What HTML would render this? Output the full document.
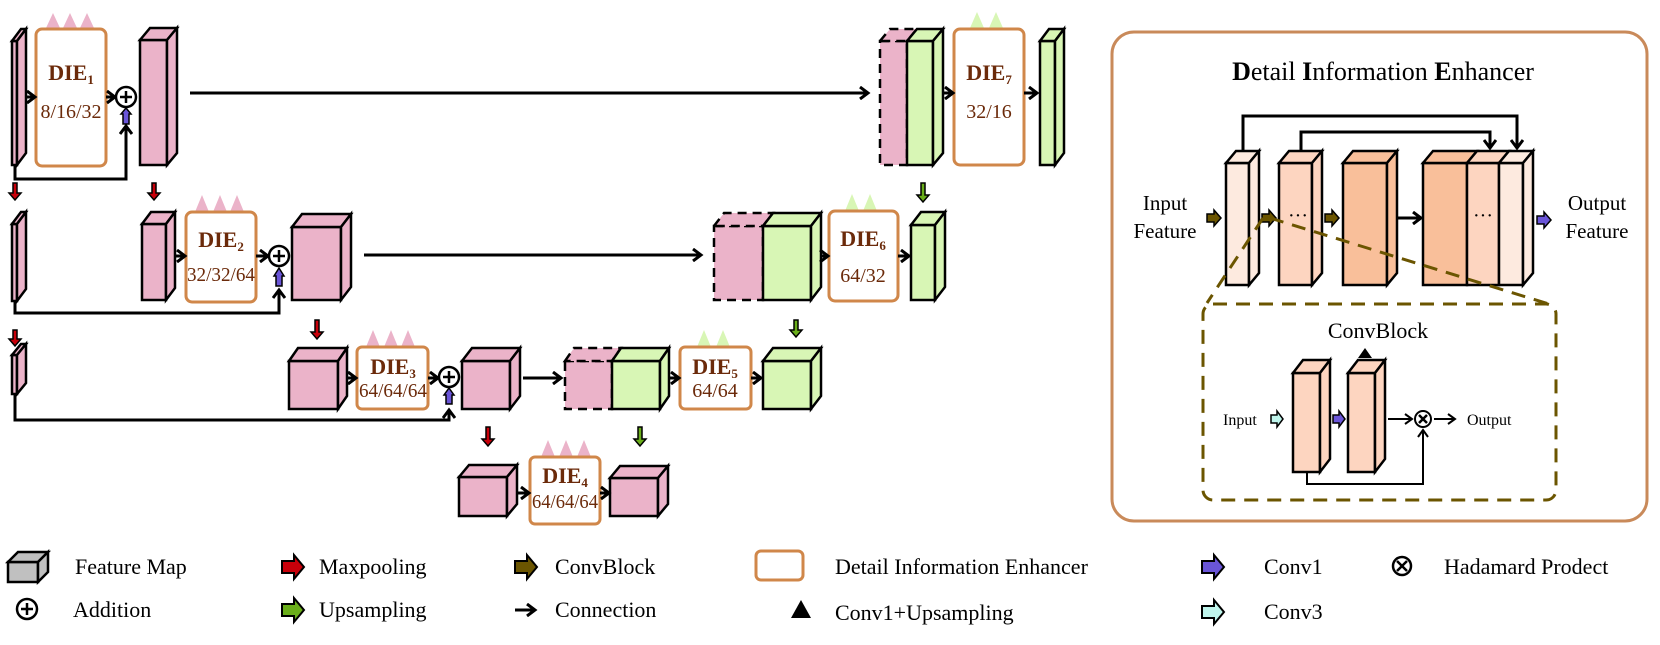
<!DOCTYPE html>
<html><head><meta charset="utf-8"><style>
html,body{margin:0;padding:0;background:#fff;}
svg{display:block;}
text{font-family:"Liberation Serif",serif;}
.d{font-weight:bold;fill:#6b2a0a;font-size:22px;}
.n{fill:#6b2a0a;font-size:20px;}
.lg{font-size:22px;fill:#000;}
</style></head><body>
<svg width="1660" height="645" viewBox="0 0 1660 645" xmlns="http://www.w3.org/2000/svg">
<defs>
<marker id="ar" markerWidth="12" markerHeight="14" refX="9" refY="7" orient="auto" markerUnits="userSpaceOnUse">
<path d="M1,1 L9,7 L1,13" fill="none" stroke="#000" stroke-width="3"/></marker>
<marker id="ars" markerWidth="10" markerHeight="12" refX="8" refY="6" orient="auto" markerUnits="userSpaceOnUse">
<path d="M1,1 L8,6 L1,11" fill="none" stroke="#000" stroke-width="2"/></marker>
</defs>
<g stroke="#000" stroke-width="2.5" stroke-linejoin="miter">
<g fill="#ebb3c9">
<rect x="12" y="41" width="5" height="124"/><polygon points="12,41 21,29 26,29 17,41"/><polygon points="17,41 26,29 26,153 17,165"/>
<rect x="140" y="40" width="27" height="125"/><polygon points="140,40 150,28 177,28 167,40"/><polygon points="167,40 177,28 177,153 167,165"/>
<rect x="12" y="224" width="5" height="77"/><polygon points="12,224 21,212 26,212 17,224"/><polygon points="17,224 26,212 26,289 17,301"/>
<rect x="142" y="224" width="24" height="76"/><polygon points="142,224 151,212 175,212 166,224"/><polygon points="166,224 175,212 175,288 166,300"/>
<rect x="292" y="227" width="49" height="73"/><polygon points="292,227 302,214 351,214 341,227"/><polygon points="341,227 351,214 351,287 341,300"/>
<rect x="12" y="355" width="5" height="39"/><polygon points="12,355 21,344 26,344 17,355"/><polygon points="17,355 26,344 26,383 17,394"/>
<rect x="289" y="361" width="49" height="48"/><polygon points="289,361 298,348 347,348 338,361"/><polygon points="338,361 347,348 347,396 338,409"/>
<rect x="462" y="361" width="48" height="48"/><polygon points="462,361 472,348 520,348 510,361"/><polygon points="510,361 520,348 520,396 510,409"/>
<rect x="459" y="477" width="48" height="39"/><polygon points="459,477 469,465 517,465 507,477"/><polygon points="507,477 517,465 517,504 507,516"/>
<rect x="610" y="478" width="48" height="38"/><polygon points="610,478 620,466 668,466 658,478"/><polygon points="658,478 668,466 668,504 658,516"/>
</g>
<g fill="#ebb3c9" stroke-dasharray="9,6">
<rect x="565" y="361" width="47" height="48"/><polygon points="565,361 574,348 621,348 612,361"/>
<rect x="714" y="226" width="49" height="74"/><polygon points="714,226 724,213 773,213 763,226"/>
<rect x="880" y="41" width="27" height="124"/><polygon points="880,41 890,29 917,29 907,41"/>
</g>
<g fill="#d8f6b5">
<rect x="612" y="361" width="48" height="48"/><polygon points="612,361 621,348 669,348 660,361"/><polygon points="660,361 669,348 669,396 660,409"/>
<rect x="763" y="361" width="48" height="48"/><polygon points="763,361 773,348 821,348 811,361"/><polygon points="811,361 821,348 821,396 811,409"/>
<rect x="763" y="226" width="48" height="74"/><polygon points="763,226 773,213 821,213 811,226"/><polygon points="811,226 821,213 821,287 811,300"/>
<rect x="911" y="225" width="24" height="75"/><polygon points="911,225 921,212 945,212 935,225"/><polygon points="935,225 945,212 945,287 935,300"/>
<rect x="907" y="41" width="26" height="124"/><polygon points="907,41 917,29 943,29 933,41"/><polygon points="933,41 943,29 943,153 933,165"/>
<rect x="1040" y="41" width="15" height="124"/><polygon points="1040,41 1049,29 1064,29 1055,41"/><polygon points="1055,41 1064,29 1064,153 1055,165"/>
</g>
</g>
<g fill="#ebb3c9">
<polygon points="46,28 53,13 60,28"/><polygon points="63,28 70,13 77,28"/><polygon points="80,28 87,13 94,28"/>
<polygon points="195,212 202,195 209,212"/><polygon points="213,212 220,195 227,212"/><polygon points="230,212 237,195 244,212"/>
<polygon points="366,347 373,330 380,347"/><polygon points="384,347 391,330 398,347"/><polygon points="401,347 408,330 415,347"/>
<polygon points="541,457 548,440 555,457"/><polygon points="559,457 566,440 573,457"/><polygon points="577,457 584,440 591,457"/>
</g>
<g fill="#d8f6b5">
<polygon points="970,28 977,12 984,28"/><polygon points="989,28 996,12 1003,28"/>
<polygon points="845,211 852,194 859,211"/><polygon points="863,211 870,194 877,211"/>
<polygon points="697,347 704,330 711,347"/><polygon points="716,347 723,330 730,347"/>
</g>
<g fill="#fff" stroke="#d0874a" stroke-width="3">
<rect x="36" y="29" width="70" height="137" rx="6"/>
<rect x="186" y="212" width="70" height="90" rx="6"/>
<rect x="357" y="347" width="71" height="62" rx="5"/>
<rect x="530" y="457" width="70" height="67" rx="5"/>
<rect x="680" y="347" width="71" height="62" rx="5"/>
<rect x="829" y="211" width="69" height="90" rx="6"/>
<rect x="954" y="29" width="70" height="136" rx="6"/>
</g>
<g text-anchor="middle">
<text x="71" y="80" class="d">DIE<tspan font-size="13" dy="4">1</tspan></text>
<text x="71" y="118" class="n">8/16/32</text>
<text x="221" y="247" class="d">DIE<tspan font-size="13" dy="4">2</tspan></text>
<text x="221" y="281" class="n" textLength="68" lengthAdjust="spacingAndGlyphs">32/32/64</text>
<text x="393" y="374" class="d">DIE<tspan font-size="13" dy="4">3</tspan></text>
<text x="393" y="397" class="n" textLength="68" lengthAdjust="spacingAndGlyphs">64/64/64</text>
<text x="565" y="483" class="d">DIE<tspan font-size="13" dy="4">4</tspan></text>
<text x="565" y="508" class="n" textLength="66" lengthAdjust="spacingAndGlyphs">64/64/64</text>
<text x="715" y="374" class="d">DIE<tspan font-size="13" dy="4">5</tspan></text>
<text x="715" y="397" class="n">64/64</text>
<text x="863" y="246" class="d">DIE<tspan font-size="13" dy="4">6</tspan></text>
<text x="863" y="282" class="n">64/32</text>
<text x="989" y="80" class="d">DIE<tspan font-size="13" dy="4">7</tspan></text>
<text x="989" y="118" class="n">32/16</text>
</g>
<g stroke="#000" stroke-width="3" fill="none" marker-end="url(#ar)">
<line x1="25" y1="97" x2="35" y2="97"/>
<line x1="106" y1="97" x2="115" y2="97"/>
<line x1="190" y1="93" x2="868" y2="93"/>
<line x1="943" y1="93" x2="953" y2="93"/>
<line x1="1024" y1="93" x2="1037" y2="93"/>
<line x1="175" y1="256" x2="185" y2="256"/>
<line x1="256" y1="256" x2="268" y2="256"/>
<line x1="364" y1="255" x2="701" y2="255"/>
<line x1="821" y1="256" x2="828" y2="256"/>
<line x1="898" y1="256" x2="909" y2="256"/>
<line x1="347" y1="378" x2="356" y2="378"/>
<line x1="428" y1="378" x2="438" y2="378"/>
<line x1="523" y1="378" x2="561" y2="378"/>
<line x1="669" y1="378" x2="679" y2="378"/>
<line x1="751" y1="378" x2="761" y2="378"/>
<line x1="517" y1="493" x2="529" y2="493"/>
<line x1="600" y1="493" x2="609" y2="493"/>
<polyline points="15,165 15,179 126,179 126,126"/>
<polyline points="15,301 15,313 279,313 279,290"/>
<polyline points="15,394 15,420 449,420 449,410"/>
</g>
<g stroke="#000" stroke-width="2.5" fill="#fff">
<circle cx="126" cy="97" r="10"/><circle cx="279" cy="256" r="10"/><circle cx="449" cy="377" r="10"/>
</g>
<g stroke="#000" stroke-width="2.5">
<path d="M120,97 H132 M126,91 V103"/><path d="M273,256 H285 M279,250 V262"/><path d="M443,377 H455 M449,371 V383"/>
</g>
<g fill="#6a55d8" stroke="#000" stroke-width="1.5">
<polygon points="123,124 129,124 129,114 131,114 126,108 121,114 123,114"/>
<polygon points="276,286 282,286 282,276 284,276 279,268 274,276 276,276"/>
<polygon points="446,404 452,404 452,395 454,395 449,388 444,395 446,395"/>
</g>
<g fill="#c8000a" stroke="#000" stroke-width="1.5">
<polygon points="13,183 17,183 17,193 21,193 15,200 9,193 13,193"/>
<polygon points="152,183 156,183 156,193 160,193 154,200 148,193 152,193"/>
<polygon points="13,330 17,330 17,339 21,339 15,346 9,339 13,339"/>
<polygon points="315,320 319,320 319,332 323,332 317,339 311,332 315,332"/>
<polygon points="486,427 490,427 490,439 494,439 488,446 482,439 486,439"/>
</g>
<g fill="#6aae1a" stroke="#000" stroke-width="1.5">
<polygon points="921,183 925,183 925,195 929,195 923,202 917,195 921,195"/>
<polygon points="794,320 798,320 798,330 802,330 796,337 790,330 794,330"/>
<polygon points="638,427 642,427 642,439 646,439 640,446 634,439 638,439"/>
</g>

<rect x="1112" y="32" width="535" height="489" rx="22" fill="none" stroke="#c98a5a" stroke-width="3"/>
<text x="1383" y="80" text-anchor="middle" font-size="26"><tspan font-weight="bold">D</tspan>etail <tspan font-weight="bold">I</tspan>nformation <tspan font-weight="bold">E</tspan>nhancer</text>
<g stroke="#000" stroke-width="3" fill="none">
<polyline points="1243,151 1243,116 1517,116 1517,148" marker-end="url(#ar)"/>
<polyline points="1301,151 1301,132 1490,132 1490,148" marker-end="url(#ar)"/>
<line x1="1397" y1="218" x2="1421" y2="218" marker-end="url(#ar)"/>
</g>
<g stroke="#000" stroke-width="2.5">
<g fill="#fdeadf"><rect x="1226" y="163" width="23" height="122"/><polygon points="1226,163 1236,151 1259,151 1249,163"/><polygon points="1249,163 1259,151 1259,273 1249,285"/></g>
<g fill="#fdd5c0"><rect x="1279" y="163" width="33" height="122"/><polygon points="1279,163 1289,151 1322,151 1312,163"/><polygon points="1312,163 1322,151 1322,273 1312,285"/></g>
<g fill="#f9bf9a"><rect x="1343" y="163" width="44" height="122"/><polygon points="1343,163 1353,151 1397,151 1387,163"/><polygon points="1387,163 1397,151 1397,273 1387,285"/></g>
<g fill="#f9bf9a"><rect x="1423" y="163" width="44" height="122"/><polygon points="1423,163 1433,151 1477,151 1467,163"/></g>
<g fill="#fdd5c0"><rect x="1467" y="163" width="32" height="122"/><polygon points="1467,163 1477,151 1509,151 1499,163"/></g>
<g fill="#fdeadf"><rect x="1499" y="163" width="24" height="122"/><polygon points="1499,163 1509,151 1533,151 1523,163"/><polygon points="1523,163 1533,151 1533,273 1523,285"/></g>
<g fill="#fdd5c0"><rect x="1293" y="373" width="27" height="99"/><polygon points="1293,373 1303,360 1330,360 1320,373"/><polygon points="1320,373 1330,360 1330,459 1320,472"/>
<rect x="1348" y="373" width="27" height="99"/><polygon points="1348,373 1358,360 1385,360 1375,373"/><polygon points="1375,373 1385,360 1385,459 1375,472"/></g>
</g>
<text x="1288" y="222" font-size="20">···</text>
<text x="1473" y="222" font-size="20">···</text>
<g fill="#6b5500" stroke="#000" stroke-width="1.5">
<polygon points="1207,214 1214,214 1214,210 1221,218 1214,226 1214,222 1207,222"/>
<polygon points="1262,214 1269,214 1269,210 1276,218 1269,226 1269,222 1262,222"/>
<polygon points="1325,214 1332,214 1332,210 1339,218 1332,226 1332,222 1325,222"/>
</g>
<polygon points="1537,216 1544,216 1544,212 1551,220 1544,228 1544,224 1537,224" fill="#6a55d8" stroke="#000" stroke-width="1.5"/>
<g fill="none" stroke="#6b5500" stroke-width="3" stroke-dasharray="14,9">
<line x1="1263" y1="218" x2="1207" y2="303"/>
<line x1="1270" y1="218" x2="1552" y2="305"/>
<rect x="1203" y="304" width="353" height="196" rx="10"/>
</g>
<g font-size="21" text-anchor="middle">
<text x="1165" y="210">Input</text><text x="1165" y="238">Feature</text>
<text x="1597" y="210">Output</text><text x="1597" y="238">Feature</text>
</g>
<text x="1378" y="338" text-anchor="middle" font-size="22">ConvBlock</text>
<polygon points="1358,358 1365,348 1372,358" fill="#000"/>
<text x="1223" y="425" font-size="16">Input</text>
<polygon points="1271,415 1277,415 1277,411 1283,419 1277,427 1277,423 1271,423" fill="#bff5ec" stroke="#000" stroke-width="1.5"/>
<polygon points="1333,415 1339,415 1339,411 1345,419 1339,427 1339,423 1333,423" fill="#6a55d8" stroke="#000" stroke-width="1.5"/>
<g stroke="#000" stroke-width="2" fill="none">
<line x1="1388" y1="419" x2="1412" y2="419" marker-end="url(#ars)"/>
<line x1="1434" y1="419" x2="1455" y2="419" marker-end="url(#ars)"/>
<polyline points="1307,472 1307,484 1423,484 1423,430" marker-end="url(#ars)"/>
<circle cx="1423" cy="419" r="8" fill="#fff"/>
<path d="M1419,415 L1427,423 M1427,415 L1419,423" stroke-width="2.5"/>
</g>
<text x="1467" y="425" font-size="16">Output</text>

<g stroke="#000" stroke-width="2.5" fill="#c0c0c0">
<rect x="8" y="562" width="30" height="20"/><polygon points="8,562 18,552 48,552 38,562"/><polygon points="38,562 48,552 48,572 38,582"/>
</g>
<text x="75" y="574" class="lg">Feature Map</text>
<circle cx="27" cy="609" r="10" fill="#fff" stroke="#000" stroke-width="2.5"/>
<path d="M21,609 H33 M27,603 V615" stroke="#000" stroke-width="2.5"/>
<text x="73" y="617" class="lg">Addition</text>
<polygon points="282,561 294,561 294,555 304,567 294,579 294,573 282,573" fill="#c8000a" stroke="#000" stroke-width="2"/>
<text x="319" y="574" class="lg">Maxpooling</text>
<polygon points="282,604 294,604 294,598 304,610 294,622 294,616 282,616" fill="#6aae1a" stroke="#000" stroke-width="2"/>
<text x="319" y="617" class="lg">Upsampling</text>
<polygon points="515,561 527,561 527,555 537,567 527,579 527,573 515,573" fill="#6b5500" stroke="#000" stroke-width="2"/>
<text x="555" y="574" class="lg">ConvBlock</text>
<line x1="515" y1="610" x2="535" y2="610" stroke="#000" stroke-width="3" marker-end="url(#ar)"/>
<text x="555" y="617" class="lg">Connection</text>
<rect x="756" y="551" width="47" height="29" rx="5" fill="#fff" stroke="#d0874a" stroke-width="3"/>
<text x="835" y="574" class="lg">Detail Information Enhancer</text>
<polygon points="791,618 801,600 811,618" fill="#000"/>
<text x="835" y="620" class="lg">Conv1+Upsampling</text>
<polygon points="1202,561 1214,561 1214,555 1224,567 1214,579 1214,573 1202,573" fill="#6a55d8" stroke="#000" stroke-width="2"/>
<text x="1264" y="574" class="lg">Conv1</text>
<polygon points="1202,606 1214,606 1214,600 1224,612 1214,624 1214,618 1202,618" fill="#bff5ec" stroke="#000" stroke-width="2"/>
<text x="1264" y="619" class="lg">Conv3</text>
<circle cx="1402" cy="566" r="9" fill="#fff" stroke="#000" stroke-width="2.5"/>
<path d="M1397,561 L1407,571 M1407,561 L1397,571" stroke="#000" stroke-width="2.5"/>
<text x="1444" y="574" class="lg">Hadamard Prodect</text>
</svg>
</body></html>
